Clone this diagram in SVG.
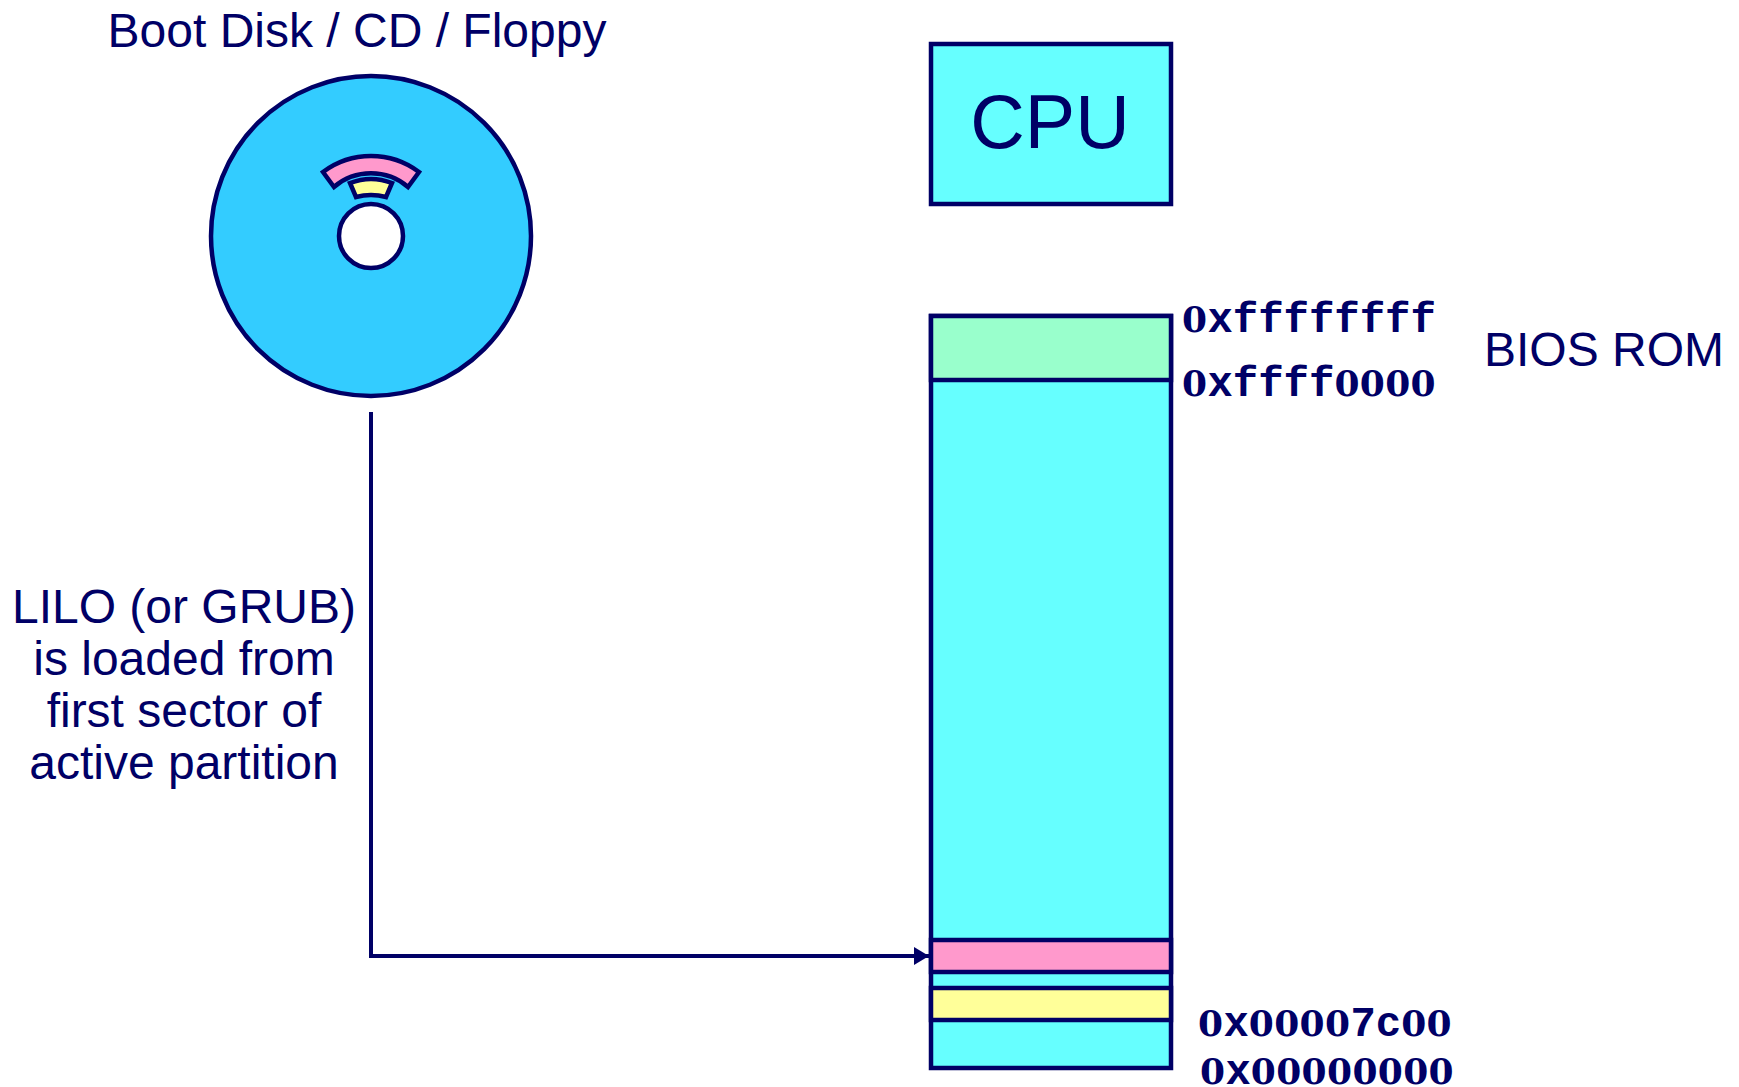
<svg xmlns="http://www.w3.org/2000/svg" width="1739" height="1087" viewBox="0 0 1739 1087">
<style>
.s{stroke:#000066;stroke-width:4.5;stroke-linejoin:miter}
text{fill:#000066;font-family:"Liberation Sans",Arial,sans-serif;font-size:48px}
.m{font-family:"Liberation Mono","Courier New",monospace;font-weight:bold;font-size:42.3px}
.z{font-family:"DejaVu Serif",serif;font-weight:bold;font-size:36px}
.c{text-anchor:middle}
</style>
<defs><marker id="a" markerUnits="userSpaceOnUse" markerWidth="16" markerHeight="18" refX="15" refY="9" orient="auto"><path d="M0 0L15 9L0 18z" fill="#000066"/></marker></defs>
<rect width="1739" height="1087" fill="#fff"/>
<g id="disk">
<circle class="s" cx="371" cy="236" r="160" fill="#33CCFF"/>
<path class="s" fill="#FF99CC" d="M323 172A80 80 0 0 1 419 172L408 187A57 57 0 0 0 334 187Z"/>
<path class="s" fill="#FFFF99" d="M350 183A58 58 0 0 1 392 183L386 197A60 60 0 0 0 356 197Z"/>
<circle class="s" cx="371" cy="236" r="32" fill="#fff"/>
<text class="c" x="357" y="47">Boot Disk / CD / Floppy</text>
</g>
<g id="cpu">
<rect class="s" x="931" y="44" width="240" height="160" fill="#66FFFF"/>
<text class="c" x="1050" y="148" style="font-size:75.5px">CPU</text>
</g>
<g id="memory">
<rect class="s" x="931" y="316" width="240" height="752" fill="#66FFFF"/>
<rect class="s" x="931" y="316" width="240" height="64" fill="#99FFCC"/>
<rect class="s" x="931" y="940" width="240" height="32" fill="#FF99CC"/>
<rect class="s" x="931" y="988" width="240" height="32" fill="#FFFF99"/>
</g>
<g id="labels">
<text class="m" y="332"><tspan class="z" x="1182">0</tspan><tspan x="1207.4">xffffffff</tspan></text>
<text class="m" y="396"><tspan class="z" x="1182">0</tspan><tspan x="1207.4">xffff</tspan><tspan class="z" x="1334.4 1359.8 1385.2 1410.6">0000</tspan></text>
<text class="m" y="1036"><tspan class="z" x="1198">0</tspan><tspan x="1223.4">x</tspan><tspan class="z" x="1248.8 1274.2 1299.6 1325">0000</tspan><tspan x="1350.4">7c</tspan><tspan class="z" x="1401.2 1426.6">00</tspan></text>
<text class="m" y="1084"><tspan class="z" x="1200">0</tspan><tspan x="1225.4">x</tspan><tspan class="z" x="1250.8 1276.2 1301.6 1327 1352.4 1377.8 1403.2 1428.6">00000000</tspan></text>
<text x="1484" y="366">BIOS ROM</text>
<text class="c" x="184" y="623">LILO (or GRUB)</text>
<text class="c" x="184" y="675">is loaded from</text>
<text class="c" x="184" y="727">first sector of</text>
<text class="c" x="184" y="779">active partition</text>
</g>
<g id="connectors">
<path d="M371 412V956H929" fill="none" stroke="#000066" stroke-width="4" marker-end="url(#a)"/>
</g>
</svg>
